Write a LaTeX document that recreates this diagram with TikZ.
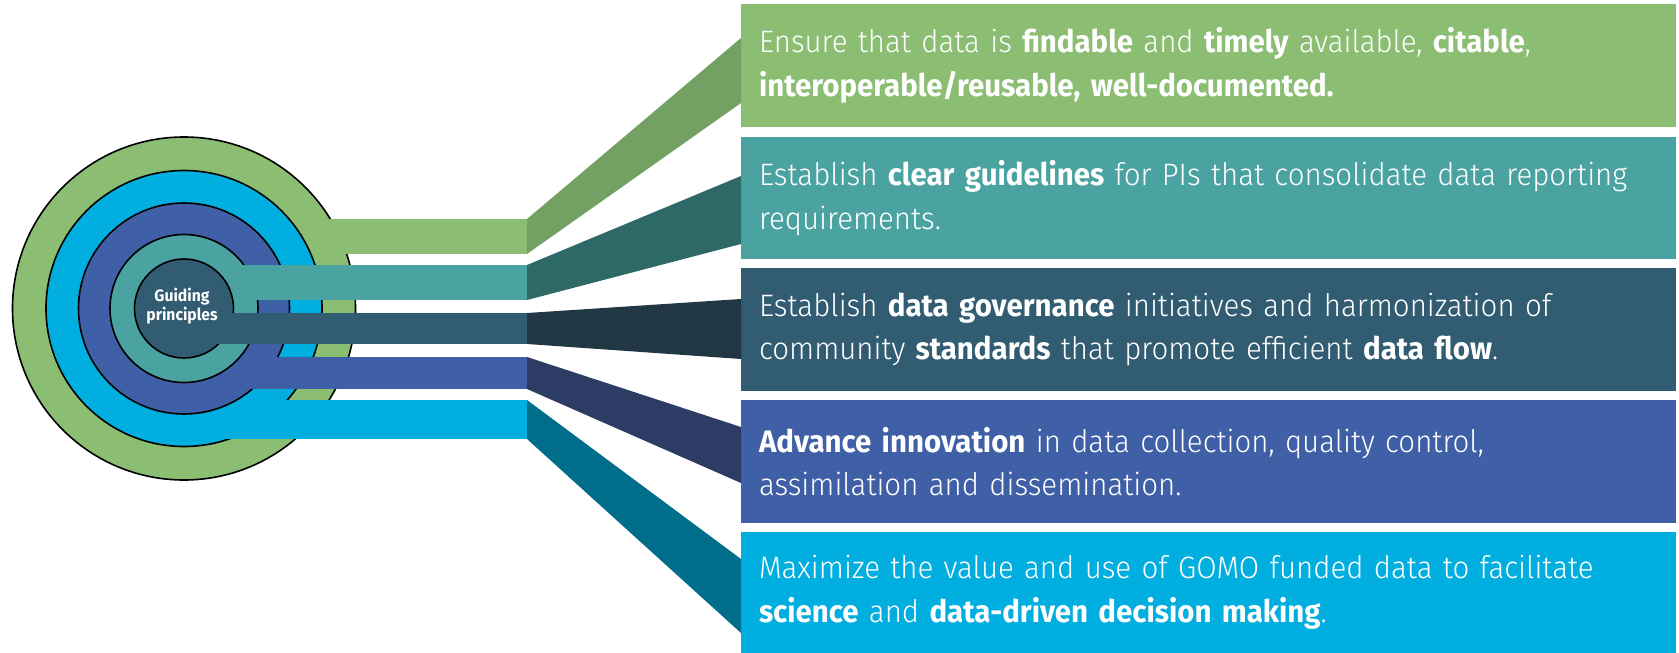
\documentclass[tikz,border=0pt]{standalone}
\usepackage{fontspec}
\IfFontExistsTF{Fira Sans Light}
  {\setmainfont{Fira Sans}[UprightFont={* Light}, BoldFont={* Bold}, FakeStretch=0.95]}
  {\setmainfont{Fira Sans}[FakeStretch=0.95]}

% palette: box colour and the darker shade of its funnel
\definecolor{gGreen}{HTML}{8BBD73}
\definecolor{gGreenDark}{HTML}{73A063}
\definecolor{gTeal}{HTML}{4BA3A1}
\definecolor{gTealDark}{HTML}{2F6967}
\definecolor{gSlate}{HTML}{325C72}
\definecolor{gSlateDark}{HTML}{213744}
\definecolor{gBlue}{HTML}{3F5FA6}
\definecolor{gBlueDark}{HTML}{2C3C65}
\definecolor{gCyan}{HTML}{00AEDF}
\definecolor{gCyanDark}{HTML}{006D8A}

\begin{document}
\begin{tikzpicture}[
		x=1pt, y=-1pt,
		ring/.style={draw=black, line width=1.6pt},
		bar/.style={inner sep=0pt, outer sep=0pt, minimum width=343pt, anchor=east},
		goal/.style={anchor=north west, inner xsep=18pt, inner ysep=0pt, outer sep=0pt,
			minimum width=935pt, minimum height=123pt, text width=899pt, align=left,
			text=white, font=\fontsize{31}{43.5}\selectfont}
		]
		
		\useasboundingbox (0,0) rectangle (1679,653);
		
		% Goal boxes on the right
		\node[goal, fill=gGreen] (goal1) at (741,4)
		{Ensure that data is \textbf{findable} and \textbf{timely} available, \textbf{citable},\\
			\textbf{interoperable/reusable, well-documented.}};
		\node[goal, fill=gTeal, minimum height=122pt] (goal2) at (741,137)
		{Establish \textbf{clear guidelines} for PIs that consolidate data reporting\\
			requirements.};
		\node[goal, fill=gSlate] (goal3) at (741,268)
		{Establish \textbf{data governance} initiatives and harmonization of\\
			community \textbf{standards} that promote efficient \textbf{data flow}.};
		\node[goal, fill=gBlue] (goal4) at (741,400)
		{\textbf{Advance innovation} in data collection, quality control,\\
			assimilation and dissemination.};
		\node[goal, fill=gCyan, minimum height=121pt] (goal5) at (741,532)
		{Maximize the value and use of GOMO funded data to facilitate\\
			\textbf{science} and \textbf{data-driven decision making}.};
		
		% Target rings, outside in, each with its own bar
		\coordinate (hub) at (184,308.5);
		
		\draw[ring, fill=gGreen] (hub) circle (171.5);
		\node[bar, fill=gGreen, minimum height=35pt] (bar1) at (527,236.5) {};
		
		\draw[ring, fill=gCyan] (hub) circle (138);
		\node[bar, fill=gCyan, minimum height=39pt] (bar5) at (527,419.5) {};
		
		\draw[ring, fill=gBlue] (hub) circle (105.5);
		\node[bar, fill=gBlue, minimum height=32pt] (bar4) at (527,373) {};
		
		\draw[ring, fill=gTeal] (hub) circle (74);
		\node[bar, fill=gTeal, minimum height=35pt] (bar2) at (527,282.5) {};
		
		\draw[ring, fill=gSlate] (hub) circle (49.5);
		\node[bar, fill=gSlate, minimum height=31pt] (bar3) at (527,328.5) {};
		
		\node[text=white, align=center, font=\bfseries\fontsize{16.5}{19.5}\selectfont]
		(hubtext) at (182,306) {Guiding\\principles};
		
		% Funnels from the bars to the boxes
		\fill[gGreenDark] (bar1.north east) -- ([yshift=-34pt]goal1.north west)
		-- ([yshift=24pt]goal1.south west) -- (bar1.south east) -- cycle;
		\fill[gTealDark] (bar2.north east) -- ([yshift=-39pt]goal2.north west)
		-- ([yshift=15pt]goal2.south west) -- (bar2.south east) -- cycle;
		\fill[gSlateDark] (bar3.north east) -- ([yshift=-31pt]goal3.north west)
		-- ([yshift=32pt]goal3.south west) -- (bar3.south east) -- cycle;
		\fill[gBlueDark] (bar4.north east) -- ([yshift=-27pt]goal4.north west)
		-- ([yshift=40pt]goal4.south west) -- (bar4.south east) -- cycle;
		\fill[gCyanDark] (bar5.north east) -- ([yshift=-27pt]goal5.north west)
		-- ([yshift=20pt]goal5.south west) -- (bar5.south east) -- cycle;
		
	\end{tikzpicture}
\end{document}
